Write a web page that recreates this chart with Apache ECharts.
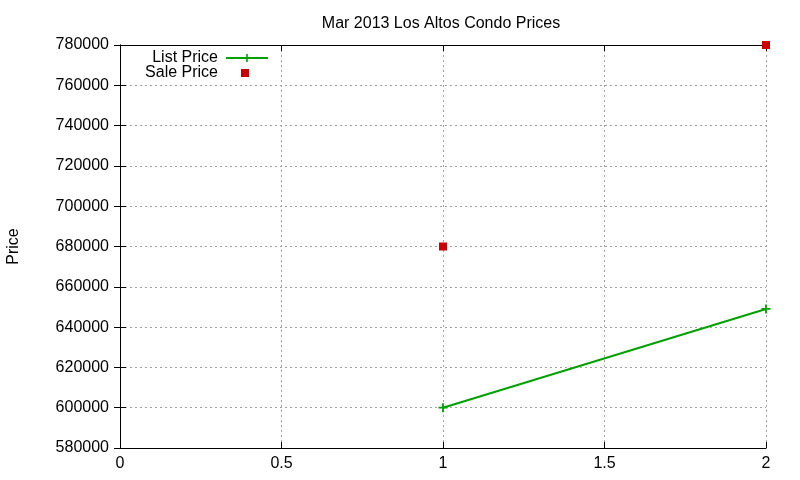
<!DOCTYPE html>
<html>
<head>
<meta charset="utf-8">
<script src="https://cdn.jsdelivr.net/npm/echarts@6/dist/echarts.min.js"></script>
<style>
  html, body { margin: 0; padding: 0; background: #fff; }
  #chart { width: 800px; height: 480px; }
</style>
</head>
<body>
<div id="chart"></div>
<script>
const xTicks = [0, 0.5, 1, 1.5, 2]
const listPrice = [[1, 600000], [2, 649000]]
const salePrice = [[1, 680000], [2, 780000]]

const font = 'Liberation Sans, Arial, sans-serif'
const plus = 'path://M4,0H6V4H10V6H6V10H4V6H0V4H4Z'

const chartDom = document.getElementById('chart')
const myChart = echarts.init(chartDom)

const gridLine = { show: true, lineStyle: { color: '#a0a0a0', type: [2, 3], width: 1 } }
const axisLine = { show: true, lineStyle: { color: '#000', width: 1 } }
const tick = { show: true, inside: true, length: 6, lineStyle: { color: '#000' } }

const option = {
  animation: false,
  backgroundColor: '#fff',
  title: {
    text: 'Mar 2013 Los Altos Condo Prices',
    left: 436,
    textAlign: 'center',
    top: 11,
    textStyle: { fontFamily: font, fontSize: 16, fontWeight: 'normal', color: '#000' }
  },
  grid: { left: 120, right: 34, top: 45, bottom: 32, outerBoundsMode: 'none', containLabel: false },
  legend: [
    {
      data: ['List Price'],
      right: 526,
      top: 45,
      align: 'right',
      itemWidth: 42,
      itemHeight: 10,
      itemGap: 4,
      textStyle: { fontFamily: font, fontSize: 16, color: '#000', padding: [0, 3, 0, 0] }
    },
    {
      data: ['Sale Price'],
      right: 546,
      top: 60,
      align: 'right',
      icon: 'rect',
      itemWidth: 8,
      itemHeight: 8,
      textStyle: { fontFamily: font, fontSize: 16, color: '#000', padding: [0, 18, 0, 0] }
    }
  ],
  xAxis: [
    {
      type: 'value',
      min: 0,
      max: 2,
      interval: 0.5,
      axisLine: axisLine,
      axisTick: tick,
      splitLine: gridLine,
      axisLabel: { fontFamily: font, fontSize: 16, color: '#000', margin: 8, formatter: v => xTicks.includes(v) ? String(v) : '' }
    },
    {
      type: 'value',
      position: 'top',
      min: 0,
      max: 2,
      interval: 0.5,
      axisLine: axisLine,
      axisTick: tick,
      splitLine: { show: false },
      axisLabel: { show: false }
    }
  ],
  yAxis: [
    {
      type: 'value',
      name: 'Price',
      nameLocation: 'middle',
      nameGap: 98,
      nameTextStyle: { fontFamily: font, fontSize: 16, color: '#000' },
      min: 580000,
      max: 780000,
      interval: 20000,
      axisLine: axisLine,
      axisTick: tick,
      splitLine: gridLine,
      axisLabel: { fontFamily: font, fontSize: 16, color: '#000', margin: 11, formatter: v => String(v) }
    },
    {
      type: 'value',
      position: 'right',
      min: 580000,
      max: 780000,
      interval: 20000,
      axisLine: axisLine,
      axisTick: tick,
      splitLine: { show: false },
      axisLabel: { show: false }
    }
  ],
  series: [
    {
      name: 'List Price',
      type: 'line',
      data: listPrice,
      symbol: plus,
      symbolSize: 9,
      showAllSymbol: true,
      itemStyle: { color: '#00a000' },
      lineStyle: { color: '#00a000', width: 2 },
      clip: false
    },
    {
      name: 'Sale Price',
      type: 'scatter',
      data: salePrice,
      symbol: 'rect',
      symbolSize: 8,
      itemStyle: { color: '#cc0000', opacity: 1 },
      clip: false
    }
  ]
}

option && myChart.setOption(option)
</script>
</body>
</html>
